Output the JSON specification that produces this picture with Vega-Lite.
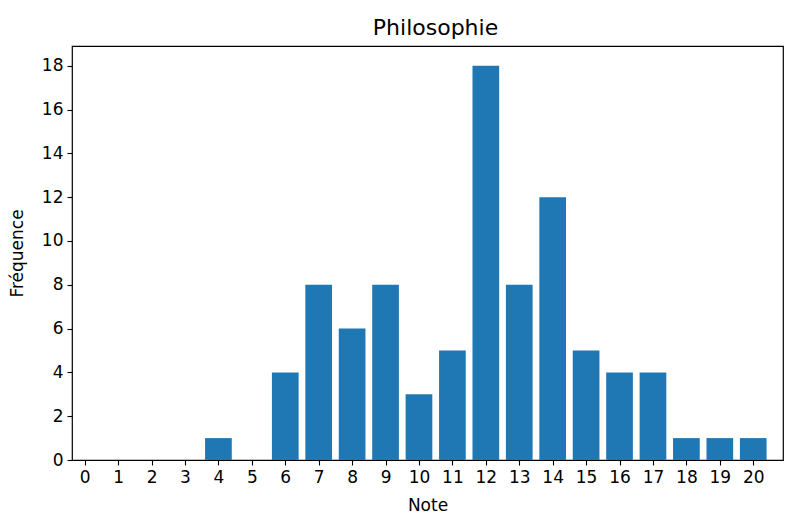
{
  "$schema": "https://vega.github.io/schema/vega-lite/v6.json",
  "autosize": "none",
  "padding": {"left": 72, "top": 46, "right": 6, "bottom": 53},
  "width": 711,
  "height": 414,
  "title": {"text": "Philosophie", "font": "DejaVu Sans", "fontSize": 22, "fontWeight": "normal", "color": "black", "offset": 6, "dx": 8},
  "config": {
    "view": {"stroke": "black", "strokeWidth": 1.2},
    "axis": {"grid": false, "domain": false, "tickColor": "black", "tickSize": 5, "tickWidth": 1.1, "labelFont": "DejaVu Sans", "labelFontSize": 17, "labelColor": "black", "titleFont": "DejaVu Sans", "titleFontSize": 17, "titleFontWeight": "normal", "titleColor": "black", "labelPadding": 4}
  },
  "data": {"values": [
    {"note": 0, "freq": 0}, {"note": 1, "freq": 0}, {"note": 2, "freq": 0}, {"note": 3, "freq": 0},
    {"note": 4, "freq": 1}, {"note": 5, "freq": 0}, {"note": 6, "freq": 4}, {"note": 7, "freq": 8},
    {"note": 8, "freq": 6}, {"note": 9, "freq": 8}, {"note": 10, "freq": 3}, {"note": 11, "freq": 5},
    {"note": 12, "freq": 18}, {"note": 13, "freq": 8}, {"note": 14, "freq": 12}, {"note": 15, "freq": 5},
    {"note": 16, "freq": 4}, {"note": 17, "freq": 4}, {"note": 18, "freq": 1}, {"note": 19, "freq": 1},
    {"note": 20, "freq": 1}
  ]},
  "mark": {"type": "bar", "color": "#1f77b4", "size": 26.7},
  "encoding": {
    "x": {"field": "note", "type": "quantitative", "title": "Note",
      "scale": {"domain": [-0.38, 20.89], "nice": false, "zero": false, "padding": 0},
      "axis": {"values": [0,1,2,3,4,5,6,7,8,9,10,11,12,13,14,15,16,17,18,19,20], "titleY": 45, "titleBaseline": "middle"}},
    "y": {"field": "freq", "type": "quantitative", "title": "Fréquence",
      "scale": {"domain": [0, 18.9], "nice": false},
      "axis": {"values": [0,2,4,6,8,10,12,14,16,18], "titleX": -55, "titleBaseline": "middle"}}
  }
}
